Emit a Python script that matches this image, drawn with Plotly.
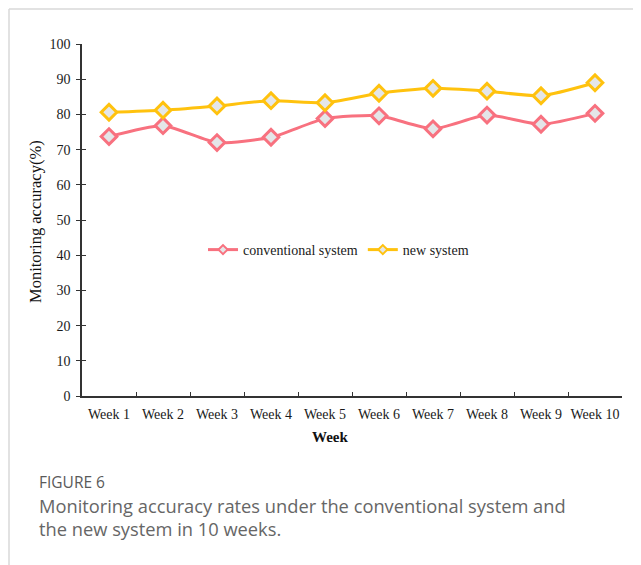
import plotly.graph_objects as go

weeks = ["Week 1", "Week 2", "Week 3", "Week 4", "Week 5", "Week 6", "Week 7", "Week 8", "Week 9", "Week 10"]
conventional = [73.7, 76.8, 72.0, 73.5, 78.8, 79.6, 75.9, 79.8, 77.2, 80.3]
new_system = [80.6, 81.2, 82.4, 83.9, 83.3, 86.0, 87.4, 86.6, 85.3, 89.0]
y_ticks = [0, 10, 20, 30, 40, 50, 60, 70, 80, 90, 100]

PINK = "#F8717F"
YELLOW = "#FFC20E"
FILL = "#E4E6E8"
SERIF = "Liberation Serif, Times New Roman, serif"
SANS = "Open Sans, Noto Sans, sans-serif"

OFF = 8  # page body margin
W, H = 641 - OFF, 565 - OFF
L, T = 82 - OFF, 44 - OFF
PW, PH = 540, 352
R = W - L - PW
B = H - T - PH


def px_x(px):
    return (px - OFF - L) / PW


def px_y(py):
    return (H - B - (py - OFF)) / PH


fig = go.Figure()
for name, vals, col in [("conventional system", conventional, PINK), ("new system", new_system, YELLOW)]:
    fig.add_trace(go.Scatter(
        x=weeks, y=vals, name=name, mode="lines+markers", showlegend=False,
        line=dict(color=col, width=3, shape="spline", smoothing=0.6),
        marker=dict(symbol="diamond", size=12, color=FILL, line=dict(color=col, width=3)),
    ))
for name, col in [("conventional system", PINK), ("new system", YELLOW)]:
    fig.add_trace(go.Scatter(
        x=[None], y=[None], name=name, mode="lines+markers",
        line=dict(color=col, width=3),
        marker=dict(symbol="diamond", size=7, color=FILL, line=dict(color=col, width=2)),
    ))

# invisible trace to activate overlay axis for cross ticks
fig.add_trace(go.Scatter(x=[weeks[0]], y=[0], yaxis="y2", mode="markers",
                         marker=dict(opacity=0), showlegend=False, hoverinfo="skip"))

fig.update_layout(
    width=W, height=H,
    margin=dict(l=L, r=R, t=T, b=B, autoexpand=False),
    paper_bgcolor="white", plot_bgcolor="white",
    font=dict(family=SERIF, size=14, color="#1a1a1a"),
    showlegend=True,
    legend=dict(orientation="h", x=px_x(203), y=px_y(250), xanchor="left", yanchor="middle",
                font=dict(family=SERIF, size=14, color="#1a1a1a"), bgcolor="rgba(0,0,0,0)",
                itemwidth=30, tracegroupgap=0),
    xaxis=dict(type="category", showline=True, linecolor="#333", linewidth=1.5,
               ticks="inside", ticklen=4, tickcolor="#333", tickson="boundaries", tickangle=0,
               automargin=False, ticklabelstandoff=4,
               showgrid=False, zeroline=False, tickfont=dict(family=SERIF, size=14, color="#1a1a1a"),
               range=[-0.5, 9.5]),
    yaxis=dict(range=[0, 100], tickvals=y_ticks, showline=True, linecolor="#333", linewidth=1.5,
               ticks="outside", ticklen=4, tickcolor="#333", showgrid=False, zeroline=False,
               automargin=False, ticklabelstandoff=3,
               tickfont=dict(family=SERIF, size=14, color="#1a1a1a")),
    yaxis2=dict(range=[0, 100], tickvals=y_ticks, overlaying="y", side="left", showline=False,
                ticks="inside", ticklen=4, tickcolor="#333", showticklabels=False, showgrid=False,
                automargin=False, zeroline=False),
)

# card border (drawn at the page's left/top edge available to the figure)
fig.add_shape(type="line", xref="paper", yref="paper", x0=px_x(9), x1=px_x(9), y0=px_y(9), y1=px_y(570),
              line=dict(color="#D8D8D8", width=1.5))
fig.add_shape(type="line", xref="paper", yref="paper", x0=px_x(9), x1=px_x(650), y0=px_y(9), y1=px_y(9),
              line=dict(color="#D8D8D8", width=1.5))

annotations = [
    dict(text="<b>Week</b>", x=px_x(330), y=px_y(437), font=dict(family=SERIF, size=15, color="#111")),
    dict(text="Monitoring accuracy(%)", x=px_x(36), y=px_y(222), textangle=-90,
         font=dict(family=SERIF, size=16.5, color="#111")),
    dict(text="FIGURE 6", x=px_x(37), y=px_y(482), xanchor="left",
         font=dict(family=SANS, size=15.5, color="#5a5a5a")),
    dict(text="Monitoring accuracy rates under the conventional system and", x=px_x(37), y=px_y(505),
         xanchor="left", font=dict(family=SANS, size=18.3, color="#666")),
    dict(text="the new system in 10 weeks.", x=px_x(37), y=px_y(528), xanchor="left",
         font=dict(family=SANS, size=18.3, color="#666")),
]
for a in annotations:
    a.setdefault("xanchor", "center")
    fig.add_annotation(xref="paper", yref="paper", yanchor="middle", showarrow=False, **a)

fig.write_html("out.html")
